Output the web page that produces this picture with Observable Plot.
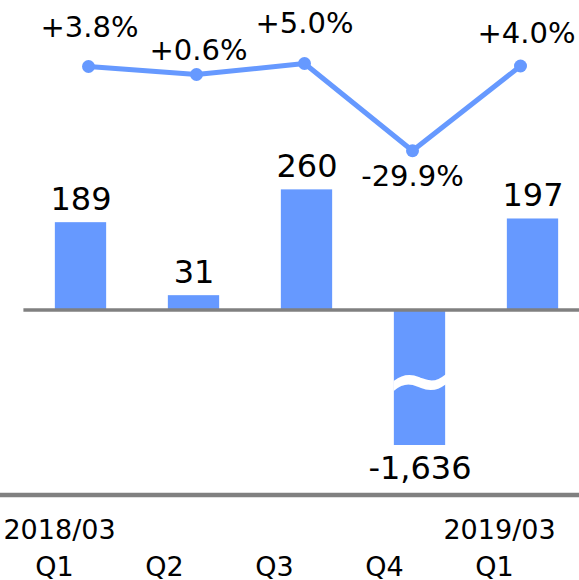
<!DOCTYPE html>
<html><head><meta charset="utf-8">
<script src="https://cdn.jsdelivr.net/npm/d3@7"></script>
<script src="https://cdn.jsdelivr.net/npm/@observablehq/plot@0.6"></script>
<style>
html,body{margin:0;padding:0;background:#fff;}
#chart{position:relative;width:579px;height:580px;overflow:hidden;background:#fff;}
#chart svg{position:absolute;left:0;top:0;}
</style></head><body><div id="chart"></div>
<script>
// ---- data ----
const quarters = ["Q1", "Q2", "Q3", "Q4", "Q1"];
const periods = ["2018/03", "", "", "", "2019/03"];
const values = [189, 31, 260, -1636, 197];
const growth = [3.8, 0.6, 5.0, -29.9, 4.0];

// ---- layout (label nudges, not data) ----
const growthLabelDy = [-30, -15, -31, 35, -23];
const growthLabelDx = [1, 2, 0, 0, 6];

const BLUE = "#6699ff";
const GRAY = "#808080";
const FONT = "'DejaVu Sans', Verdana, sans-serif";

const loc = d3.formatLocale({decimal: ".", thousands: ",", grouping: [3], currency: ["$", ""], minus: "-"});
const fmtVal = loc.format(",");
const fmtPct = v => loc.format("+.1f")(v) + "%";

const data = quarters.map((q, i) => ({key: i, quarter: q, period: periods[i], value: values[i], growth: growth[i]}));

const common = {width: 579, height: 580, margin: 0,
  style: {background: "transparent", fontFamily: FONT, overflow: "visible", color: "black"}};

// Layer A: bars (axis broken below: the scale clamps the large negative bar)
const bars = Plot.plot({
  ...common,
  marginLeft: 23.4,
  x: {type: "band", domain: data.map(d => d.key), range: [23.4, 589.4], padding: 0, axis: null},
  y: {type: "linear", domain: [-293.3, 669.9], range: [445, 0], clamp: true, axis: null},
  marks: [
    Plot.barY(data, {x: "key", y: "value", fill: BLUE, insetLeft: 30.85, insetRight: 30.85}),
    Plot.text(data.filter(d => d.value < 0), {x: "key", y: () => 0, dy: 72, text: () => "~",
      fill: "white", fontSize: 84, fontWeight: "bold", lineAnchor: "middle"}),
    Plot.ruleY([0], {stroke: GRAY, strokeWidth: 3.5}),
    Plot.text(data.filter(d => d.value >= 0), {x: "key", y: "value", text: d => fmtVal(d.value),
      lineAnchor: "bottom", dy: -13, fontSize: 32, fill: "black"}),
    Plot.text(data.filter(d => d.value < 0), {x: "key", y: "value", text: d => fmtVal(d.value),
      lineAnchor: "bottom", dy: 33, fontSize: 32, fill: "black"})
  ]
});

// Layer B: growth line
const line = Plot.plot({
  ...common,
  x: {type: "point", domain: data.map(d => d.key), range: [86.7, 522.3], padding: 0, axis: null},
  y: {domain: [-30, 10], range: [150.5, 50.5], axis: null},
  marks: [
    Plot.line(data, {x: "key", y: "growth", stroke: BLUE, strokeWidth: 5}),
    Plot.dot(data, {x: "key", y: "growth", r: 6.5, fill: BLUE, stroke: "none"}),
    ...data.map((d, i) => Plot.text([d], {x: "key", y: "growth", text: e => fmtPct(e.growth),
      lineAnchor: "bottom", dx: growthLabelDx[i], dy: growthLabelDy[i], fontSize: 29, fill: "black"}))
  ]
});

// Layer C: category labels and bottom line
const axisLayer = Plot.plot({
  ...common,
  marginBottom: 85.5,
  x: {type: "point", domain: data.map(d => d.key), range: [52.2, 495], padding: 0, axis: null},
  marks: [
    Plot.frame({anchor: "bottom", stroke: GRAY, strokeWidth: 4.5}),
    Plot.text(data.filter(d => d.period), {x: "key", text: "period", frameAnchor: "bottom",
      lineAnchor: "bottom", dx: 5, dy: 43.8, fontSize: 27, fill: "black"}),
    Plot.text(data, {x: "key", text: "quarter", frameAnchor: "bottom",
      lineAnchor: "bottom", dy: 80.5, fontSize: 27, fill: "black"})
  ]
});

const root = document.getElementById("chart");
root.append(bars, line, axisLayer);
</script>
</body></html>
